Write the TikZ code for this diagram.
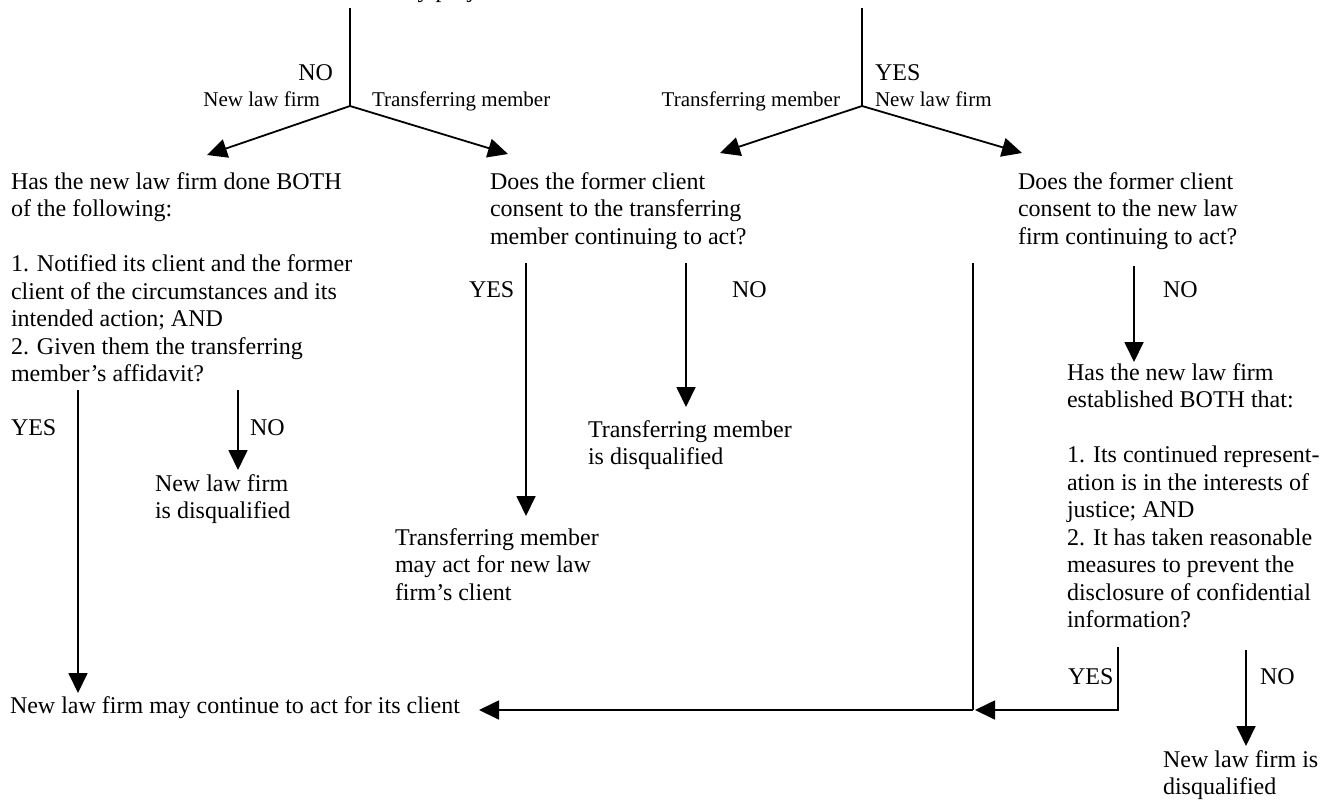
\documentclass[tikz,border=0pt]{standalone}
\usepackage{fontspec}
\setmainfont{Liberation Serif}
\usetikzlibrary{arrows.meta}
\begin{document}
\begin{tikzpicture}[x=1pt,y=-1pt,
  txt/.style={font=\fontsize{24}{27.5}\selectfont, inner sep=0pt, outer sep=0pt, align=left, anchor=north west},
  word/.style={font=\fontsize{24}{27.5}\selectfont, inner sep=0pt, outer sep=0pt},
  small/.style={font=\fontsize{21}{24}\selectfont, inner sep=0pt, outer sep=0pt},
  conn/.style={line width=1.8pt},
  arr/.style={line width=1.8pt, -{Triangle[length=20pt,width=19pt]}}]
\useasboundingbox (0,0) rectangle (1332,800);

% clipped question at the top edge
\node[word, anchor=base west] (top) at (395,-2) {any project};

% top branch labels
\node[word, anchor=base east] (no0) at (333,80) {NO};
\node[small, anchor=base east] (nlfA) at (320,106) {New law firm};
\node[small, anchor=base west] (tmA) at (372,106) {Transferring member};
\node[word, anchor=base west] (yes0) at (875,80) {YES};
\node[small, anchor=base east] (tmB) at (840,106) {Transferring member};
\node[small, anchor=base west] (nlfB) at (875,106) {New law firm};

% question nodes
\node[txt] (q1) at (11,170) {\strut Has the new law firm done BOTH\\of the following:\\[27.5pt]1. Notified its client and the former\\client of the circumstances and its\\intended action; AND\\2. Given them the transferring\\member’s affidavit?};
\node[txt] (q2) at (490,170) {\strut Does the former client\\consent to the transferring\\member continuing to act?};
\node[txt] (q3) at (1018,170) {\strut Does the former client\\consent to the new law\\firm continuing to act?};
\node[txt] (q4) at (1067,361) {\strut Has the new law firm\\established BOTH that:\\[27.5pt]1. Its continued represent-\\ation is in the interests of\\justice; AND\\2. It has taken reasonable\\measures to prevent the\\disclosure of confidential\\information?};

% outcomes
\node[txt] (o1) at (155,472) {\strut New law firm\\is disqualified};
\node[txt] (o2) at (588,418) {\strut Transferring member\\is disqualified};
\node[txt] (o3) at (395,526) {\strut Transferring member\\may act for new law\\firm’s client};
\node[txt] (o4) at (1163,748) {\strut New law firm is\\disqualified};
\node[txt] (o5) at (10,694) {\strut New law firm may continue to act for its client};

% yes/no labels
\node[word, anchor=base west] (y1) at (11,435) {YES};
\node[word, anchor=base west] (n1) at (250,435) {NO};
\node[word, anchor=base west] (y2) at (469,297) {YES};
\node[word, anchor=base west] (n2) at (732,297) {NO};
\node[word, anchor=base west] (n3) at (1163,297) {NO};
\node[word, anchor=base west] (y4) at (1068,684) {YES};
\node[word, anchor=base west] (n4) at (1260,684) {NO};

% coordinates
\coordinate (tA) at (350,8);   \coordinate (jA) at (350,106);
\coordinate (tB) at (862,8);   \coordinate (jB) at (862,106);
\coordinate (hA1) at (207,155); \coordinate (hA2) at (508,154);
\coordinate (hB1) at (720,153); \coordinate (hB2) at (1022,153);
\coordinate (s1y) at (78,390);  \coordinate (e1y) at (78,693);
\coordinate (s1n) at (238,390); \coordinate (e1n) at (238,470);
\coordinate (s2y) at (526,263); \coordinate (e2y) at (526,516);
\coordinate (s2n) at (686,263); \coordinate (e2n) at (686,407);
\coordinate (s3y) at (973,263); \coordinate (m3y) at (973,710);
\coordinate (s3n) at (1134,266); \coordinate (e3n) at (1134,362);
\coordinate (s4y) at (1118,647); \coordinate (c4y) at (1118,710);
\coordinate (e4y) at (975,710);
\coordinate (s4n) at (1246,650); \coordinate (e4n) at (1246,746);
\coordinate (eB) at (479,710);

% connectors
\draw[conn] (tA) -- (jA);
\draw[arr] (jA) -- (hA1);
\draw[arr] (jA) -- (hA2);
\draw[conn] (tB) -- (jB);
\draw[arr] (jB) -- (hB1);
\draw[arr] (jB) -- (hB2);
\draw[arr] (s1y) -- (e1y);
\draw[arr] (s1n) -- (e1n);
\draw[arr] (s2y) -- (e2y);
\draw[arr] (s2n) -- (e2n);
\draw[conn] (s3y) -- (m3y);
\draw[arr] (m3y) -- (eB);
\draw[arr] (s3n) -- (e3n);
\draw[arr] (s4y) -- (c4y) -- (e4y);
\draw[arr] (s4n) -- (e4n);
\end{tikzpicture}
\end{document}
